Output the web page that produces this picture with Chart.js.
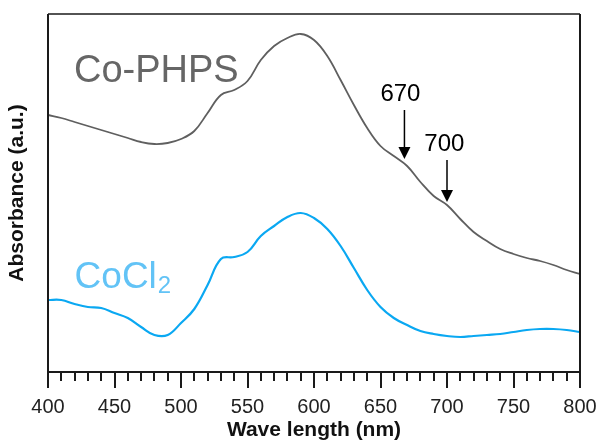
<!DOCTYPE html>
<html>
<head>
<meta charset="utf-8">
<script src="https://cdn.jsdelivr.net/npm/chart.js@4/dist/chart.umd.min.js"></script>
<style>
  html, body { margin: 0; padding: 0; background: #fff; }
  #wrap { width: 598px; height: 443px; }
</style>
</head>
<body>
<div id="wrap"><canvas id="c" width="598" height="443"></canvas></div>
<script>
// ---- data ----
const wavelengths = [400,410,420,430,440,450,460,470,480,490,500,510,520,530,540,550,560,570,580,590,600,
                     610,620,630,640,650,660,670,680,690,700,710,720,730,740,750,760,770,780,790,800];
const coPhps = [2.57,2.54,2.50,2.46,2.42,2.38,2.34,2.30,2.28,2.29,2.33,2.41,2.59,2.77,2.82,2.91,3.12,3.26,3.34,3.38,3.32,
                3.16,2.92,2.67,2.44,2.26,2.16,2.06,1.90,1.76,1.67,1.53,1.40,1.31,1.23,1.18,1.14,1.11,1.07,1.02,0.98];
const cocl2 = [0.72,0.72,0.68,0.65,0.64,0.59,0.54,0.45,0.37,0.37,0.49,0.63,0.87,1.13,1.15,1.20,1.36,1.46,1.55,1.59,1.54,
               1.43,1.26,1.04,0.82,0.65,0.54,0.47,0.41,0.38,0.36,0.35,0.36,0.37,0.38,0.40,0.42,0.43,0.43,0.42,0.40];
const xTickLabels = [400,450,500,550,600,650,700,750,800];
const seriesNames = ['Co-PHPS', 'CoCl2'];
const peakMarks = [ { label: '670', x: 668, yFrom: 2.62, yTo: 2.13, labelX: 665, labelY: 2.78 },
                    { label: '700', x: 700, yFrom: 2.12, yTo: 1.70, labelX: 698, labelY: 2.28 } ];
const seriesLabels = [ { x: 419.5, y: 2.90 }, { x: 420, y: 0.84 } ];

const FONT = '"Liberation Sans", Arial, Helvetica, sans-serif';

const decor = {
  id: 'decor',
  afterDatasetsDraw(chart) {
    const ctx = chart.ctx, xs = chart.scales.x, ys = chart.scales.y, a = chart.chartArea;
    ctx.save();
    // frame
    ctx.strokeStyle = '#1a1a1a';
    ctx.lineWidth = 1.5;
    ctx.beginPath();
    ctx.moveTo(a.left, a.top); ctx.lineTo(a.right, a.top);
    ctx.stroke();
    ctx.lineWidth = 2;
    ctx.beginPath();
    ctx.moveTo(a.left, a.top); ctx.lineTo(a.left, a.bottom); ctx.lineTo(a.right, a.bottom); ctx.lineTo(a.right, a.top);
    ctx.stroke();
    // tick marks every 10 nm, longer at labelled values
    ctx.lineWidth = 2;
    for (let v = xs.min; v <= xs.max; v += 10) {
      const px = Math.round(xs.getPixelForValue(v));
      const major = xTickLabels.includes(v);
      ctx.beginPath();
      ctx.moveTo(px, a.bottom);
      ctx.lineTo(px, a.bottom + (major ? 16 : 9));
      ctx.stroke();
    }
    // arrows
    ctx.fillStyle = '#000';
    ctx.strokeStyle = '#000';
    ctx.lineWidth = 1.5;
    peakMarks.forEach(m => {
      const px = xs.getPixelForValue(m.x);
      const y0 = ys.getPixelForValue(m.yFrom), y1 = ys.getPixelForValue(m.yTo);
      ctx.beginPath();
      ctx.moveTo(px, y0); ctx.lineTo(px, y1 - 10);
      ctx.stroke();
      ctx.beginPath();
      ctx.moveTo(px - 6, y1 - 12); ctx.lineTo(px + 6, y1 - 12); ctx.lineTo(px, y1);
      ctx.closePath(); ctx.fill();
      ctx.font = '24px ' + FONT;
      ctx.textAlign = 'center'; ctx.textBaseline = 'middle';
      ctx.fillText(m.label, xs.getPixelForValue(m.labelX), ys.getPixelForValue(m.labelY));
    });
    // series labels
    ctx.textAlign = 'left'; ctx.textBaseline = 'alphabetic';
    ctx.fillStyle = '#666666';
    ctx.font = '38px ' + FONT;
    ctx.fillText(seriesNames[0], xs.getPixelForValue(seriesLabels[0].x), ys.getPixelForValue(seriesLabels[0].y));
    ctx.fillStyle = '#62c3f6';
    const bx = xs.getPixelForValue(seriesLabels[1].x), by = ys.getPixelForValue(seriesLabels[1].y);
    ctx.font = '37px ' + FONT;
    ctx.fillText('CoCl', bx, by);
    const w = ctx.measureText('CoCl').width;
    ctx.font = '24px ' + FONT;
    ctx.fillText('2', bx + w + 1, by + 5);
    ctx.restore();
  }
};

new Chart(document.getElementById('c'), {
  type: 'line',
  data: {
    datasets: [
      { label: seriesNames[0], data: wavelengths.map((w, i) => ({ x: w, y: coPhps[i] })),
        borderColor: '#5f5f5f', borderWidth: 1.8, pointRadius: 0, tension: 0.4, fill: false },
      { label: seriesNames[1], data: wavelengths.map((w, i) => ({ x: w, y: cocl2[i] })),
        borderColor: '#0aa8f2', borderWidth: 2.2, pointRadius: 0, tension: 0.4, fill: false }
    ]
  },
  options: {
    responsive: false,
    devicePixelRatio: 1,
    animation: false,
    layout: { padding: { top: 14, right: 18, left: 0, bottom: 0 } },
    plugins: { legend: { display: false }, tooltip: { enabled: false } },
    scales: {
      x: {
        type: 'linear', min: 400, max: 800,
        afterBuildTicks: s => { s.ticks = xTickLabels.map(v => ({ value: v })); },
        afterFit: s => { s.height = 71; s.paddingLeft = 0; s.paddingRight = 0; },
        ticks: { padding: 8, color: '#222', font: { family: FONT, size: 20 }, maxRotation: 0, autoSkip: false },
        grid: { display: true, drawOnChartArea: false, drawTicks: true, tickLength: 15, color: 'rgba(0,0,0,0)' },
        border: { display: false },
        title: { display: true, text: 'Wave length (nm)', color: '#111',
                 font: { family: FONT, size: 21, weight: 'bold' }, padding: { top: 0, bottom: 0 } }
      },
      y: {
        type: 'linear', min: 0, max: 3.58,
        afterFit: s => { s.width = 48; },
        ticks: { display: false },
        grid: { display: false, drawTicks: false },
        border: { display: false },
        title: { display: true, text: 'Absorbance (a.u.)', color: '#111',
                 font: { family: FONT, size: 21, weight: 'bold' }, padding: { top: 5, bottom: 18 } }
      }
    }
  },
  plugins: [decor]
});
</script>
</body>
</html>
